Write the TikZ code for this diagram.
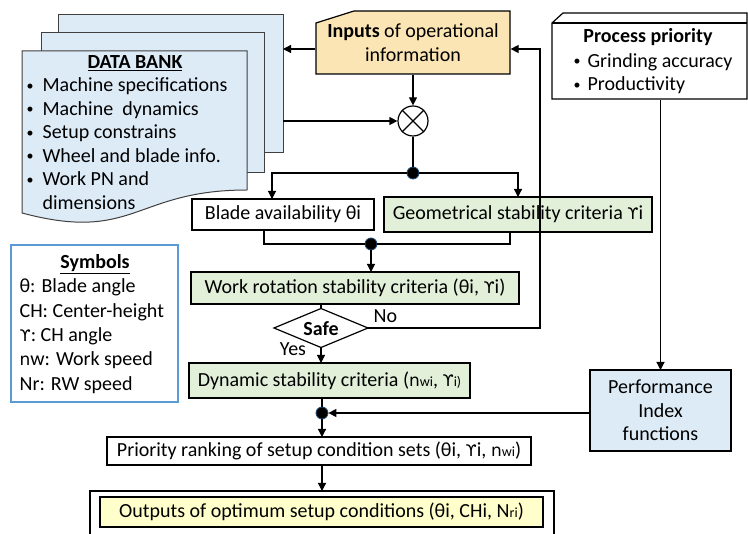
\documentclass[tikz,border=0pt]{standalone}
\usepackage{fontspec}
\setmainfont{Carlito}
\newfontfamily\grfont{DejaVu Sans}
\usetikzlibrary{arrows.meta,shapes.geometric}

\definecolor{bankblue}{RGB}{221,235,247}
\definecolor{inputtan}{RGB}{252,229,180}
\definecolor{critgreen}{RGB}{226,240,217}
\definecolor{outyellow}{RGB}{255,255,204}
\definecolor{symblue}{RGB}{91,155,213}
\definecolor{dotblue}{RGB}{31,78,121}

\newcommand{\ups}{{\grfont\fontsize{16}{18}\selectfont ϒ}}
\newcommand{\nsym}{{\grfont\fontsize{17}{18}\selectfont n}}
\newcommand{\sm}[1]{{\fontsize{14}{16}\selectfont #1}}
\newcommand{\blt}[1]{\llap{\raisebox{1.5pt}{\fontsize{14}{14}\selectfont\textbullet}\hspace{#1}}}

\begin{document}
\begin{tikzpicture}[x=1pt,y=-1pt,line width=1.2pt,
    >={Triangle[length=8pt,width=8pt]},
    every node/.style={font=\fontsize{20}{23.5}\selectfont},
    box/.style={draw,inner sep=0pt,outer sep=0pt},
    dot/.style={circle,fill=black,draw=dotblue,line width=0.8pt,minimum size=12,inner sep=0pt}]
        \useasboundingbox (0,0) rectangle (748,534);
        \clip (0,0) rectangle (748,534);

        % data bank (three sheets)
        \filldraw[fill=bankblue,draw=black!75,line width=1pt] (58,15) rectangle (283,153);
        \filldraw[fill=bankblue,draw=black!75,line width=1pt] (41,33) rectangle (264,173);
        \filldraw[fill=bankblue,draw=black!75,line width=1pt] (22,51) -- (247,51) -- (247,190)
            .. controls (134.5,190) and (134.5,243) .. (22,213) -- cycle;
        \coordinate (bankin) at (283,49);
        \coordinate (bankout) at (283,121);
        \node[anchor=base] (dbtitle) at (135,69) {\textbf{\underline{DATA BANK}}};
        \foreach \txt [count=\k] in {Machine specifications,Machine\ \ dynamics,Setup constrains,Wheel and blade info.,Work PN and}
            \node[anchor=base west,inner sep=0pt] (db\k) at (42,{92+23.5*(\k-1)}) {\blt{9pt}\txt};
        \node[anchor=base west,inner sep=0pt] (db6) at (42,210) {dimensions};

        % inputs
        \filldraw[fill=inputtan] (316,23) -- (354,11) -- (510,11) -- (510,74) -- (316,74) -- cycle;
        \node[inner sep=0pt,minimum width=194,minimum height=63,align=center] (inputs) at (413,42.5)
            {\textbf{Inputs} of operational\\information};

        % process priority
        \filldraw[fill=white] (552,99) -- (552,23) -- (563,13) -- (747,13) -- (747,99) -- cycle;
        \draw (552,23) -- (747,23);
        \node[inner sep=0pt,minimum width=195,minimum height=76] (process) at (649.5,61) {};
        \node[anchor=base] (ptitle) at (648,43) {\textbf{Process priority}};
        \node[anchor=base west,inner sep=0pt] (p1) at (587,67.5) {\blt{7pt}Grinding accuracy};
        \node[anchor=base west,inner sep=0pt] (p2) at (587,91) {\blt{7pt}Productivity};

        % mixing node
        \node[draw,circle,fill=white,minimum size=30,inner sep=0pt] (mix) at (413,121) {};
        \draw (mix.north west) -- (mix.south east) (mix.north east) -- (mix.south west);

        \node[dot] (j1) at (413,173) {};
        \node[box,minimum width=182,minimum height=31] (blade) at (283,214.5) {Blade availability θi};
        \node[box,fill=critgreen,minimum width=268,minimum height=35] (geom) at (518,214.5)
            {Geometrical stability criteria \ups i};
        \node[dot] (j2) at (371,244) {};
        \node[box,fill=critgreen,minimum width=328,minimum height=32] (wr) at (355,288)
            {Work rotation stability criteria (θi, \ups i)};
        \node[box,fill=white,diamond,minimum width=94,minimum height=39] (safe) at (321,328) {};
        \node (safetxt) at (321,328.5) {\textbf{Safe}};
        \node[anchor=base west,inner sep=0pt] (nolbl) at (373,323) {No};
        \node[anchor=base,inner sep=0pt] (yeslbl) at (293,356) {Yes};
        \node[box,fill=critgreen,minimum width=281,minimum height=35] (dyn) at (329.5,380.5)
            {Dynamic stability criteria (\nsym\sm{wi}, \sm{\ups i)}};
        \node[dot] (j3) at (322,413) {};
        \node[box,fill=bankblue,minimum width=141,minimum height=81,align=center] (perf) at (660.5,410.5)
            {Performance\\Index\\functions};
        \node[box,minimum width=424,minimum height=28] (prio) at (319,451)
            {Priority ranking of setup condition sets (θi, \ups i, \nsym\sm{wi})};
        \node[box,line width=2.4pt,minimum width=464,minimum height=62] (outbox) at (322,522) {};
        \node[box,fill=outyellow,minimum width=443,minimum height=30] (outputs) at (321.5,512)
            {Outputs of optimum setup conditions (θi, CHi, N\sm{ri})};

        % symbols
        \node[box,draw=symblue,minimum width=167,minimum height=157] (symbols) at (94.5,323.5) {};
        \node[anchor=base] (symtitle) at (95,269) {\textbf{\underline{Symbols}}};
        \foreach \txt [count=\k] in {θ: Blade angle,CH: Center-height,\ups: CH angle,\nsym w: Work speed,Nr: RW speed}
            \node[anchor=base west,inner sep=0pt] (sym\k) at (19,{293+24.3*(\k-1)}) {\txt};

        % connectors
        \draw[->] (inputs.west |- bankin) -- (bankin);
        \draw[->] (bankout) -- (mix);
        \draw[->] (inputs) -- (mix);
        \draw (mix) -- (j1);
        \draw[->] (j1) -| ([xshift=-11pt]blade.north);
        \draw[->] (j1) -| (geom);
        \draw ([xshift=-19pt]blade.south) |- (j2);
        \draw ([xshift=-8pt]geom.south) |- (j2);
        \draw[->] (j2) -- (j2 |- wr.north);
        \draw (wr.south -| safe) -- (safe);
        \coordinate (loop) at (540,49);
        \draw[->] (safe.east) -| (loop) -- (inputs.east |- loop);
        \draw[->] (safe) -- (dyn.north -| safe);
        \draw (dyn.south -| j3) -- (j3);
        \draw[->] (perf |- process.south) -- (perf);
        \draw[->] (perf.west |- j3) -- (j3);
        \draw[->] (j3) -- (prio.north -| j3);
        \draw[->] (prio.south -| j3) -- (outbox.north -| j3);
\end{tikzpicture}
\end{document}
